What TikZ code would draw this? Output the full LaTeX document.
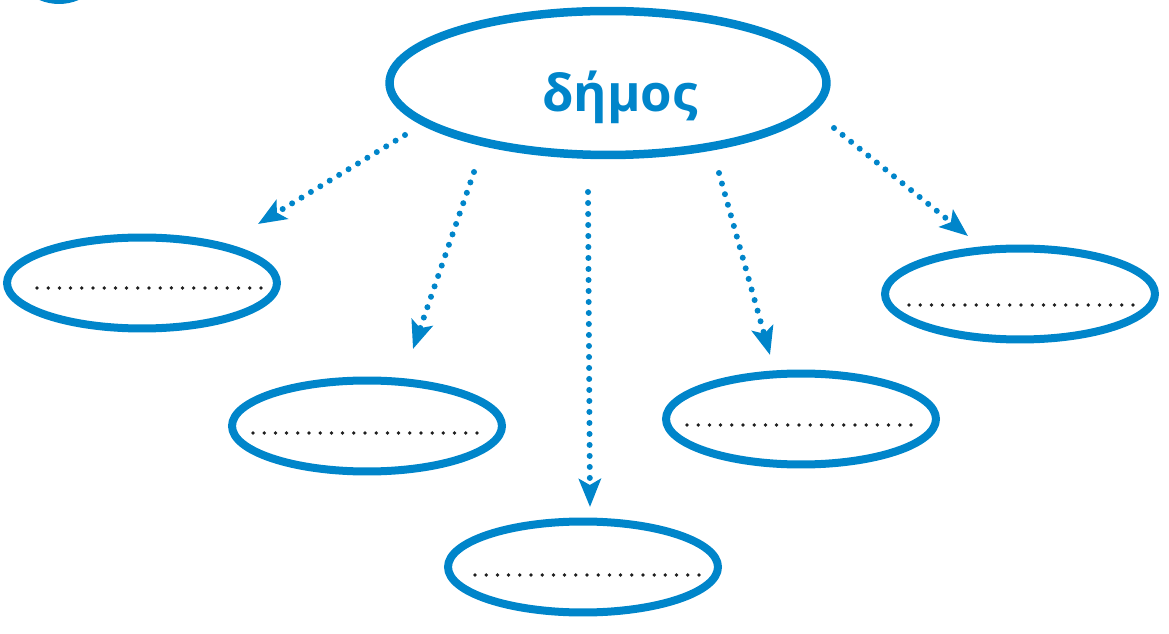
\documentclass[tikz,border=0pt]{standalone}
\usepackage{fontspec}
\setmainfont{Open Sans}
\usepackage{tikz}
\usetikzlibrary{shapes.geometric, arrows.meta}
\definecolor{dblue}{RGB}{0, 133, 202}
\definecolor{ink}{RGB}{30, 30, 30}

\tikzset{
  bigoval/.style={ellipse, draw=dblue, line width=0.17cm, inner sep=0pt,
                  minimum width=8.74cm, minimum height=2.88cm},
  leaf/.style={ellipse, draw=dblue, line width=0.16cm, inner sep=0pt,
               minimum width=5.4cm, minimum height=1.82cm},
  title/.style={text=dblue, font=\fontsize{29}{34}\selectfont\bfseries, inner sep=0pt},
  dotarrow/.style={color=dblue, line width=0.12cm, line cap=round,
                   dash pattern=on 0pt off 0.22cm,
                   -{Stealth[length=0.56cm, width=0.44cm, inset=0.12cm]}},
  blanks/.style={color=ink, line width=0.075cm, line cap=round,
                 dash pattern=on 0pt off 0.224cm}
}

\begin{document}
\begin{tikzpicture}[x=0.02cm, y=-0.02cm]
  \useasboundingbox (0, 0) rectangle (1169, 634);

  % piece of the next badge, cut by the page edge
  \begin{scope}
    \clip (0, 0) rectangle (1169, 634);
    \draw[color=dblue, line width=0.14cm] (59, -46) circle[radius=0.93cm];
  \end{scope}

  \node[bigoval] (main) at (608, 83) {};
  \node[title, anchor=base] (word) at (620, 112) {δήμος};

  \node[leaf] (farleft) at (142, 283) {};
  \node[leaf] (left) at (367, 426) {};
  \node[leaf] (bottom) at (583, 567) {};
  \node[leaf] (right) at (801, 419) {};
  \node[leaf] (farright) at (1020, 294) {};

  % dotted blanks to fill in
  \foreach \n/\dx/\dy in {farleft/-105/5, left/-114/7, bottom/-108/8,
                          right/-114/6, farright/-111/11}
    \draw[blanks] ([shift={(\dx, \dy)}]\n.center) -- +(225, 0);

  % dotted arrows
  \foreach \i/\sx/\sy/\ex/\ey in {1/405/135/258/224, 2/474/172/413/349,
                                  3/588/192/590/507, 4/719/173/770/355,
                                  5/834/128/968/236} {
    \coordinate (from\i) at (\sx, \sy);
    \coordinate (to\i) at (\ex, \ey);
    \draw[dotarrow] (from\i) -- (to\i);
  }
\end{tikzpicture}
\end{document}
